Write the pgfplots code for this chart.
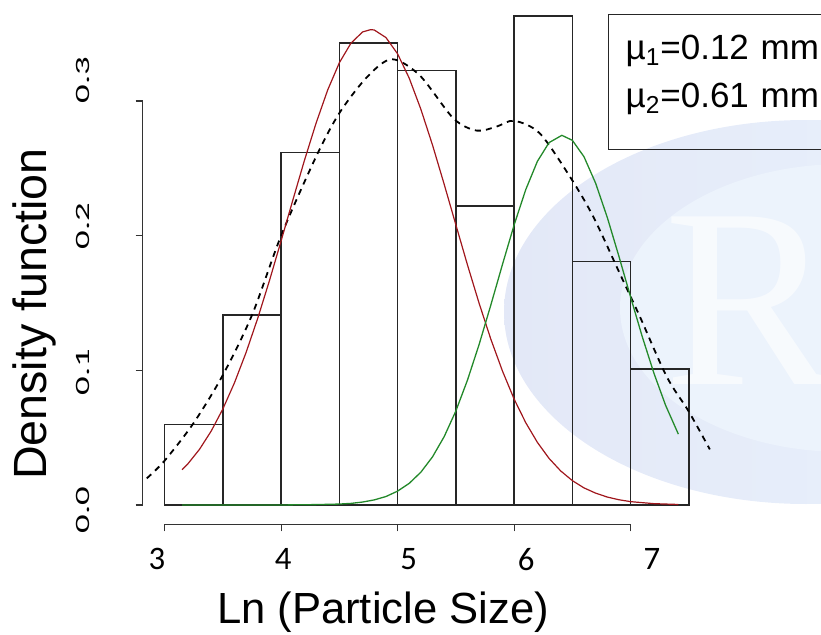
\documentclass[border=0pt]{standalone}
\usepackage{graphicx}
\usepackage{fontspec}
\setmainfont{Liberation Sans}
\newfontfamily\carlito{Carlito}
\newfontfamily\serifR{Liberation Serif}
\usepackage{pgfplots}
\pgfplotsset{compat=1.18}
\definecolor{redc}{HTML}{A0161C}
\definecolor{greenc}{HTML}{23892A}
\definecolor{wmA}{HTML}{E3E8F7}
\definecolor{wmB}{HTML}{EAF3FD}
\definecolor{wmC}{HTML}{ECF3FC}
\begin{document}
\begin{tikzpicture}
\path[use as bounding box] (0,0) rectangle (410.5pt,317pt);
% faint R-logo watermark in the background
\shade[left color=wmA, right color=wmB] (403pt,161pt) ellipse [x radius=151pt, y radius=96pt];
\fill[wmC] (422pt,163pt) ellipse [x radius=112pt, y radius=72pt];
\node[anchor=base west, inner sep=0pt, text=white, opacity=0.6, font=\serifR\fontsize{128pt}{128pt}\selectfont] at (332pt,125pt) {R};
\begin{axis}[
  at={(71.35pt,54.85pt)}, anchor=south west,
  x=58.25pt, y=673.35pt,
  xmin=2.812, xmax=7.8, ymin=-0.01433, ymax=0.37,
  clip=false,
  separate axis lines,
  axis x line*=bottom, axis y line*=left,
  x axis line style={-, draw=black!80, line width=0.6pt, shorten <=10.95pt, shorten >=46.6pt},
  y axis line style={-, draw=black!80, line width=0.6pt, shorten <=9.65pt, shorten >=47.1pt},
  tick align=outside, major tick length=3.5pt,
  tick style={draw=black!80, line width=0.6pt},
  xtick={3,4,5,6,7},
  xticklabels={{3\hspace*{7.7pt}},{\hspace*{2pt}4},{\hspace*{11pt}5},{\hspace*{12pt}6},{\hspace*{21.3pt}7}},
  ytick={0,0.1,0.2,0.3},
  yticklabels={{\scalebox{1.12}[0.62]{0.0}\hspace*{5pt}},{\scalebox{1.12}[0.62]{0.1}\hspace*{1.8pt}},{\hspace*{9.3pt}\scalebox{1.12}[0.62]{0.2}},{\hspace*{21pt}\scalebox{1.12}[0.62]{0.3}}},
  tick label style={font=\carlito\fontsize{16.4pt}{19pt}\selectfont},
  xticklabel style={anchor=north, inner sep=0pt},
  xticklabel shift=8.5pt,
  yticklabel style={rotate=90, anchor=south, inner sep=0pt},
  yticklabel shift=22.8pt,
  xlabel={Ln (Particle Size)},
  xlabel style={at={(axis description cs:0.4135,-0.1926)}, anchor=base, inner sep=0pt, font=\fontsize{21.8pt}{26pt}\selectfont},
  ylabel={Density function},
  ylabel style={at={(axis description cs:-0.1652,0.4062)}, anchor=base, inner sep=0pt, font=\fontsize{23.3pt}{28pt}\selectfont},
  legend cell align=left,
  legend style={at={(axis cs:6.8035,0.3646)}, anchor=north west, draw=black!85, line width=0.6pt, fill=none,
    inner xsep=8.65pt, inner ysep=10.65pt, row sep=2pt,
    font=\fontsize{17.5pt}{24pt}\selectfont,
    nodes={text height=12pt, text depth=10pt, inner sep=0pt, text width=110pt, align=left}},
]
% histogram
\addplot[ybar interval, draw=black!85, line width=0.65pt, fill=none, forget plot] coordinates {
 (3,0.060) (3.5,0.141) (4,0.262) (4.5,0.343) (5,0.3227) (5.5,0.222) (6,0.363) (6.5,0.181) (7,0.101) (7.5,0.101)};
% kernel density (dashed)
\addplot[black, line width=0.9pt, dash pattern=on 3pt off 2.6pt, smooth, forget plot] coordinates {
 (2.847,0.0198) (3.0,0.0329) (3.25,0.061) (3.5,0.0965) (3.75,0.141) (4.0,0.200) (4.3,0.2586) (4.5,0.291)
 (4.74,0.318) (4.95,0.331) (5.19,0.319) (5.48,0.287) (5.68,0.278) (5.85,0.281) (6.0,0.2853) (6.22,0.276)
 (6.48,0.2437) (6.68,0.214) (6.92,0.1695) (7.08,0.1398) (7.31,0.0953) (7.5,0.0693) (7.68,0.0413)};
% first component
\addplot[redc, line width=0.6pt, forget plot] coordinates {
 (3.15,0.0262) (3.2,0.0306) (3.3,0.0414) (3.4,0.0549) (3.5,0.0713) (3.6,0.0908) (3.7,0.1134) (3.8,0.1388)
 (3.9,0.1666) (4.0,0.1961) (4.1,0.2262) (4.2,0.2558) (4.3,0.2835) (4.4,0.3082) (4.5,0.3284) (4.6,0.3430)
 (4.7,0.3513) (4.77,0.3530) (4.8,0.3527) (4.9,0.3471) (5.0,0.3350) (5.1,0.3169) (5.2,0.2938) (5.3,0.2672)
 (5.4,0.2381) (5.5,0.2081) (5.6,0.1782) (5.7,0.1497) (5.8,0.1232) (5.9,0.0995) (6.0,0.0787) (6.1,0.0611)
 (6.2,0.0465) (6.3,0.0346) (6.4,0.0253) (6.5,0.0181) (6.6,0.0127) (6.7,0.0088) (6.8,0.0059) (6.9,0.0039)
 (7.0,0.0025) (7.2,0.0010) (7.41,0.0004)};
% second component
\addplot[greenc, line width=0.65pt, forget plot] coordinates {
 (3.15,0) (3.5,0) (4.0,0.00002) (4.3,0.0003) (4.5,0.0007) (4.6,0.0012) (4.7,0.0022) (4.8,0.0038) (4.9,0.0063)
 (5.0,0.0103) (5.1,0.0161) (5.2,0.0244) (5.3,0.0358) (5.4,0.0508) (5.5,0.0698) (5.6,0.0928) (5.7,0.1193)
 (5.8,0.1484) (5.9,0.1786) (6.0,0.2079) (6.1,0.2342) (6.2,0.2552) (6.3,0.2691) (6.41,0.2745) (6.5,0.2708)
 (6.6,0.2586) (6.7,0.2389) (6.8,0.2135) (6.9,0.1846) (7.0,0.1544) (7.1,0.1250) (7.2,0.0979) (7.3,0.0741)
 (7.41,0.0526)};
\addlegendimage{empty legend}
\addlegendentry{\textmu\textsubscript{1}=0.12 mm}
\addlegendimage{empty legend}
\addlegendentry{\textmu\textsubscript{2}=0.61 mm}
\end{axis}
\end{tikzpicture}
\end{document}
